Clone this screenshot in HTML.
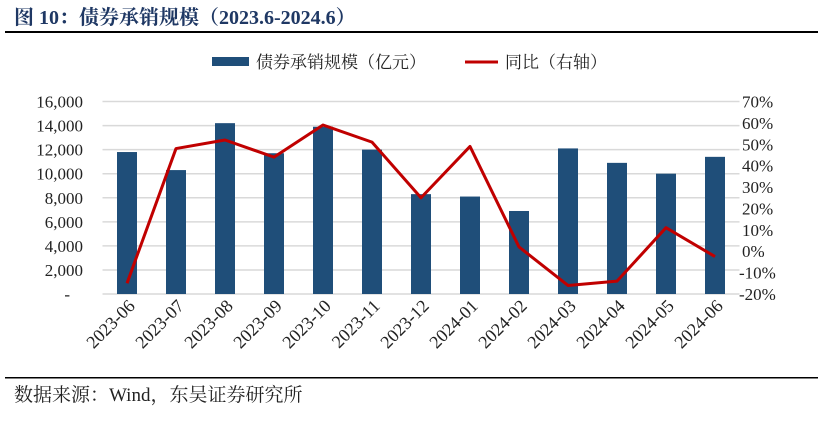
<!DOCTYPE html>
<html><head><meta charset="utf-8"><style>
body{margin:0;background:#fff;width:823px;height:419px;overflow:hidden;font-family:"Liberation Serif","Noto Serif CJK SC",serif;}
svg text{font-family:"Liberation Serif","Noto Serif CJK SC",serif;}
</style></head><body>
<svg width="823" height="419">
<text x="14" y="24" font-size="20" font-weight="bold" fill="#1f3864">图 10：债券承销规模（2023.6-2024.6）</text>
<rect x="5" y="31" width="813" height="2" fill="#000"/>
<g>
<rect x="212" y="57" width="37" height="9" fill="#1f4e79"/>
<text x="256" y="68" font-size="17" fill="#222">债券承销规模（亿元）</text>
<line x1="465" y1="62" x2="498" y2="62" stroke="#c00000" stroke-width="3"/>
<text x="505" y="68" font-size="17" fill="#222">同比（右轴）</text>
</g>
<g id="grid"></g><g id="bars"></g><g id="line"></g><g id="axes"></g>
<rect x="5" y="377" width="813" height="1.5" fill="#000"/>
<text x="14" y="401" font-size="19" fill="#222">数据来源：Wind，东吴证券研究所</text>
</svg>
<script>
const categories=["2023-06","2023-07","2023-08","2023-09","2023-10","2023-11","2023-12","2024-01","2024-02","2024-03","2024-04","2024-05","2024-06"];
const volume=[11800,10300,14200,11700,13900,12000,8300,8100,6900,12100,10900,10000,11400];
const yoy=[-15,48,52,44,59,51,25,49,2,-16,-14,11,-2.5];
const leftTicks=[0,2000,4000,6000,8000,10000,12000,14000,16000];
const rightTicks=[-20,-10,0,10,20,30,40,50,60,70];
const NS="http://www.w3.org/2000/svg";
const X0=102.5,STEP=49,Y0=294,Y1=101.5;
const xc=i=>X0+STEP*(i+0.5);
const yL=v=>Y0-(v/16000)*(Y0-Y1);
const yR=v=>Y0-((v+20)/90)*(Y0-Y1);
function mk(tag,attrs,parent){const e=document.createElementNS(NS,tag);for(const k in attrs)e.setAttribute(k,attrs[k]);document.getElementById(parent).appendChild(e);return e;}
const fmt=v=>v===0?"-":v.toLocaleString("en-US");
leftTicks.forEach(v=>{
 const g=mk("line",{x1:X0,x2:X0+STEP*13,y1:yL(v),y2:yL(v),stroke:"#d9d9d9","stroke-width":1.5},"grid");
 
 
 const t=mk("text",{x:v===0?70:83,y:yL(v)+6,"font-size":17,"text-anchor":"end",fill:"#222"},"axes");
 t.textContent=fmt(v);
 
 
});
rightTicks.forEach(v=>{
 const t=mk("text",{x:v<0?739:742,y:yR(v)+6,"font-size":17,fill:"#222"},"axes");
 t.textContent=v+"%";
 
 
});
volume.forEach((v,i)=>{
 const r=mk("rect",{x:xc(i)-10,y:yL(v),width:20,height:Y0-yL(v),fill:"#1f4e79"},"bars");
 
 
});
const p=mk("polyline",{points:yoy.map((v,i)=>xc(i)+","+yR(v)).join(" "),fill:"none",stroke:"#c00000","stroke-width":3,"stroke-linejoin":"round"},"line");


categories.forEach((c,i)=>{
 const t=mk("text",{x:xc(i)+9,y:307,"font-size":18,"text-anchor":"end",fill:"#222",transform:"rotate(-45 "+(xc(i)+9)+" 307)"},"axes");
 t.textContent=c;
 
 
});
</script>
</body></html>
